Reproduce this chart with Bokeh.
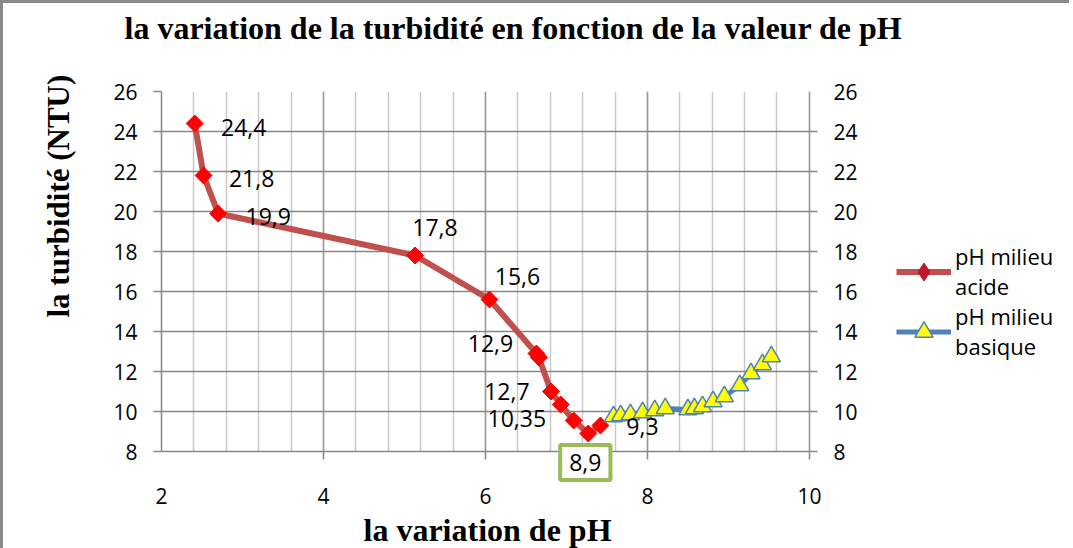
import numpy as np
from bokeh.plotting import figure
from bokeh.models import (Range1d, LinearAxis, FixedTicker, ColumnDataSource, LabelSet, Label,
                          Legend, LegendItem, Title, Grid)
from bokeh.core.properties import value
from bokeh.embed import file_html
from bokeh.resources import INLINE

# ---------------- data ----------------
acid_ph = [2.41, 2.52, 2.70, 5.13, 6.05, 6.63, 6.66, 6.81, 6.93, 7.09, 7.27, 7.42]
acid_ntu = [24.4, 21.8, 19.9, 17.8, 15.6, 12.9, 12.7, 11.0, 10.35, 9.55, 8.9, 9.3]
acid_labels = ["24,4", "21,8", "19,9", "17,8", "15,6", "12,9", "12,7", "", "10,35", "", "8,9", "9,3"]

basic_ph = [7.58, 7.67, 7.79, 7.94, 8.09, 8.22, 8.50, 8.58, 8.68, 8.81, 8.95, 9.14, 9.28, 9.42, 9.53]
basic_ntu = [9.75, 9.8, 9.85, 9.95, 10.05, 10.15, 10.1, 10.15, 10.25, 10.5, 10.75, 11.3, 11.9, 12.35, 12.75]

x_ticks = [2, 4, 6, 8, 10]
y_ticks = [8, 10, 12, 14, 16, 18, 20, 22, 24, 26]

title_text = "la variation de la turbidité en fonction de la valeur de pH"
x_label = "la variation de pH"
y_label = "la turbidité (NTU)"
legend_acid = "pH milieu\nacide"
legend_basic = "pH milieu\nbasique"

# label placement (screen offsets, px)
lab_dx = [49, 48, 50, 20, 28, -46, -32, 0, -44, 0, -3, 42]
lab_dy = [-4, -3, -3, 28, 23, 10, -34, 0, -14, 0, -29, -1]

# ---------------- styling ----------------
TICK_FONT = "Open Sans"
SERIF = "Liberation Serif"
AXIS_GRAY = "#868686"
GRID_GRAY = "#9a9a9a"
MINOR_GRAY = "#c8c8c8"
RED_LINE = "#C0504D"
BLUE_LINE = "#4F81BD"

X_MIN, X_MAX = 2, 10
Y_MIN, Y_MAX = 8, 26
PX_X, PX_Y = 81, 20          # pixels per unit
Y_VIEW_MIN = 6.3             # frame reaches below the x axis (boxed label not clipped)
X_VIEW_MAX = 13.15           # frame reaches right of the right axis (legend not clipped)
RIGHT_SHIFT = int(round((X_VIEW_MAX - X_MAX) * PX_X))

p = figure(frame_width=int(round((X_VIEW_MAX - X_MIN) * PX_X)),
           frame_height=int(round((Y_MAX - Y_VIEW_MIN) * PX_Y)),
           x_range=Range1d(X_MIN, X_VIEW_MAX), y_range=Range1d(Y_VIEW_MIN, Y_MAX),
           output_backend="svg", toolbar_location=None,
           min_border_left=157, min_border_right=5,
           min_border_top=88, min_border_bottom=62,
           background_fill_color="white", border_fill_color="white")
p.styles = {"border-left": "3px solid #8a8a8a", "border-top": "3px solid #8a8a8a"}
p.outline_line_color = None

# title (trailing empty line lifts the title towards the top edge)
p.title.text = title_text + "\n"
p.title.text_font = SERIF
p.title.text_font_style = "bold"
p.title.text_font_size = "32px"
p.title.text_color = "black"
p.title.text_line_height = 1.235
p.title.align = "left"
p.title.offset = -37
p.title.vertical_align = "top"
p.title.standoff = 0

# axes
xt = FixedTicker(ticks=x_ticks, minor_ticks=list(np.round(np.arange(2, 10.01, 0.4), 2)))
yt = FixedTicker(ticks=y_ticks)
p.xaxis.ticker = xt
p.yaxis.ticker = yt

right_axis = LinearAxis(ticker=yt)
p.add_layout(right_axis, "right")

for ax in [p.xaxis[0], p.yaxis[0], right_axis]:
    ax.axis_line_color = AXIS_GRAY
    ax.axis_line_width = 1.5
    ax.major_tick_line_color = AXIS_GRAY
    ax.major_tick_line_width = 1.5
    ax.major_tick_out = 8
    ax.major_tick_in = 0
    ax.minor_tick_out = 0
    ax.minor_tick_in = 0
    ax.major_label_text_font = TICK_FONT
    ax.major_label_text_font_size = "21px"
    ax.major_label_text_color = "black"
    ax.major_label_standoff = 16
p.yaxis[0].bounds = (Y_MIN, Y_MAX)

# right axis: its line is the grid line at x = 10; labels pulled back next to it
right_axis.axis_line_color = None
right_axis.major_tick_line_color = None
right_axis.major_tick_out = 0
right_axis.major_label_standoff = 24 - RIGHT_SHIFT

# x axis: its line is the grid line at y = 8; labels lifted up to it
xa = p.xaxis[0]
xa.bounds = (X_MIN, X_MAX)
xa.axis_line_color = None
xa.major_tick_line_color = None
xa.major_tick_out = 0
xa.major_label_standoff = 2

# x axis title (below, positioned under the axis span)
xtitle = Title(text=x_label, text_font=SERIF, text_font_style="bold", text_font_size="32px",
               text_color="black", align="left", offset=202, vertical_align="top", standoff=10)
p.add_layout(xtitle, "below")

# y axis title
ytitle = Title(text=y_label, text_font=SERIF, text_font_style="bold", text_font_size="31px",
               text_color="black", align="left", offset=168, standoff=70)
p.add_layout(ytitle, "left")

# grid
HAS_CROSS = "cross_bounds" in Grid.properties()
p.xgrid.grid_line_color = GRID_GRAY
p.xgrid.grid_line_width = 1.5
p.xgrid.minor_grid_line_color = MINOR_GRAY
p.xgrid.minor_grid_line_width = 1.5
p.ygrid.grid_line_color = AXIS_GRAY
p.ygrid.grid_line_width = 1.5
if HAS_CROSS:
    p.xgrid.cross_bounds = (Y_MIN, Y_MAX)
    p.ygrid.cross_bounds = (X_MIN, X_MAX)
    # short tick marks outside the x axis line and the right axis line
    p.add_layout(Grid(dimension=0, ticker=FixedTicker(ticks=x_ticks),
                      cross_bounds=(Y_MIN - 8 / PX_Y, Y_MIN),
                      grid_line_color=AXIS_GRAY, grid_line_width=1.5))
    p.add_layout(Grid(dimension=1, ticker=yt, cross_bounds=(X_MAX, X_MAX + 8 / PX_X),
                      grid_line_color=AXIS_GRAY, grid_line_width=1.5))

# series
acid_src = ColumnDataSource(dict(x=acid_ph, y=acid_ntu))
basic_src = ColumnDataSource(dict(x=basic_ph, y=basic_ntu))

r_acid_line = p.line("x", "y", source=acid_src, line_color=RED_LINE, line_width=6)
r_acid_pts = p.scatter("x", "y", source=acid_src, marker="square", angle=np.pi / 4, size=12,
                       fill_color="#FF0000", line_color="#FF0000")
r_basic_line = p.line("x", "y", source=basic_src, line_color=BLUE_LINE, line_width=5)
r_basic_pts = p.scatter("x", "y", source=basic_src, marker="triangle", size=18,
                        fill_color="#FFFF00", line_color=BLUE_LINE, line_width=1.5)

# legend-only key marker (hidden in the plot): upright diamond as in the original key
r_acid_key = p.scatter("x", "y", source=acid_src, marker="diamond", size=18,
                       fill_color="#C0182C", line_color="#C0182C", visible=False)

# data labels (all except the boxed minimum)
imin = acid_labels.index("8,9")
idx = [i for i, t in enumerate(acid_labels) if t and i != imin]
lab_src = ColumnDataSource(dict(
    x=[acid_ph[i] for i in idx], y=[acid_ntu[i] for i in idx],
    text=[acid_labels[i] for i in idx],
    dx=[lab_dx[i] for i in idx], dy=[lab_dy[i] for i in idx]))
labels = LabelSet(x="x", y="y", text="text", x_offset="dx", y_offset="dy", source=lab_src,
                  text_font=value(TICK_FONT), text_font_size="23px", text_color="black",
                  text_align="center", text_baseline="middle")
p.add_layout(labels)

box_label = Label(x=acid_ph[imin], y=acid_ntu[imin], text=acid_labels[imin],
                  x_offset=lab_dx[imin], y_offset=lab_dy[imin],
                  text_font=TICK_FONT, text_font_size="23px", text_color="black",
                  text_align="center", text_baseline="middle",
                  border_line_color="#9BBB59", border_line_width=4,
                  background_fill_color="white", padding=9)
p.add_layout(box_label)

# legend (inside the widened frame, right of the right axis)
legend = Legend(items=[LegendItem(label=legend_acid, renderers=[r_acid_line, r_acid_key]),
                       LegendItem(label=legend_basic, renderers=[r_basic_line, r_basic_pts])],
                location=(735, 124), orientation="vertical",
                label_text_font=TICK_FONT, label_text_font_size="22px", label_text_color="black",
                label_text_line_height=1.75,
                glyph_width=55, glyph_height=45, label_standoff=4, spacing=0,
                padding=0, margin=0, border_line_color=None, background_fill_alpha=0)
p.add_layout(legend)

open("out.html", "w").write(file_html(p, INLINE))
